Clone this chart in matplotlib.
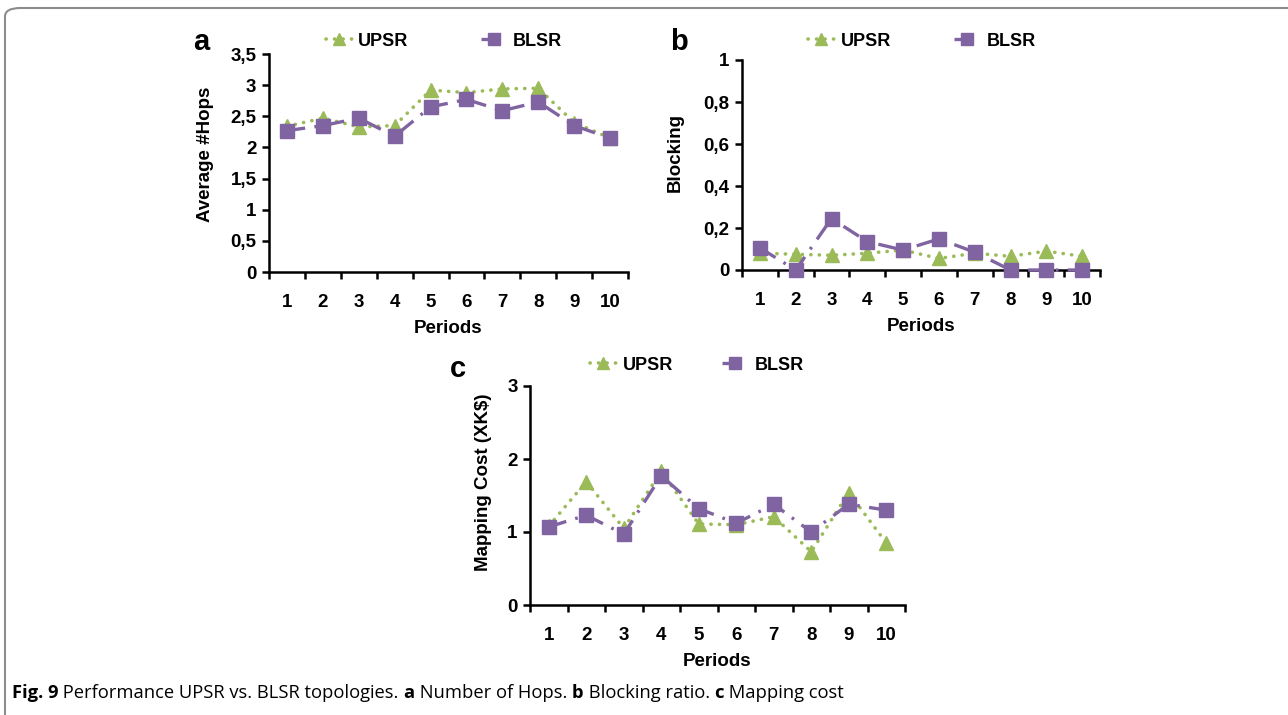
import matplotlib
matplotlib.use("Agg")
import matplotlib.pyplot as plt
from matplotlib.patches import FancyBboxPatch
from matplotlib.ticker import FixedLocator, FuncFormatter

W, H = 1288, 715

periods = list(range(1, 11))

hops_upsr = [2.34, 2.47, 2.33, 2.35, 2.92, 2.88, 2.94, 2.95, 2.40, 2.15]
hops_blsr = [2.27, 2.35, 2.47, 2.18, 2.65, 2.77, 2.59, 2.73, 2.35, 2.15]

block_upsr = [0.080, 0.075, 0.070, 0.080, 0.095, 0.055, 0.080, 0.065, 0.090, 0.065]
block_blsr = [0.105, 0.0, 0.245, 0.135, 0.095, 0.148, 0.085, 0.0, 0.0, 0.0]

cost_upsr = [1.08, 1.69, 1.05, 1.83, 1.11, 1.10, 1.21, 0.73, 1.54, 0.85]
cost_blsr = [1.07, 1.23, 0.97, 1.77, 1.32, 1.12, 1.38, 1.00, 1.38, 1.30]

GREEN = "#9bbb59"
PURPLE = "#8064a2"

plt.rcParams["font.family"] = ["Liberation Sans", "DejaVu Sans"]

fig = plt.figure(figsize=(W / 100, H / 100), dpi=100)


def px_axes(box):
    left, right, top, bottom = box
    return fig.add_axes([left / W, 1 - bottom / H, (right - left) / W, (bottom - top) / H])


def comma(v, pos):
    return f"{v:g}".replace(".", ",")


def panel(box, upsr, blsr, ymax, ystep, ylabel, ylab_xy, letter, letter_xy,
          leg_xy, colspace):
    ax = px_axes(box)
    left, right, top, bottom = box
    ax.plot(periods, upsr, color=GREEN, lw=2.6, ls=(0, (0.05, 2.3)),
            dash_capstyle="round", marker="^", ms=10.5, mec=GREEN, mfc=GREEN,
            label="UPSR", zorder=3, clip_on=False)
    ax.plot(periods, blsr, color=PURPLE, lw=2.4, ls=(0, (5.5, 2.8, 0.8, 2.8)),
            marker="s", ms=10.5, mec=PURPLE, mfc=PURPLE, label="BLSR", zorder=4,
            clip_on=False)
    ax.set_xlim(0.5, 10.5)
    ax.set_ylim(0, ymax)
    for s in ("top", "right"):
        ax.spines[s].set_visible(False)
    for s in ("left", "bottom"):
        ax.spines[s].set_linewidth(1.8)
        ax.spines[s].set_zorder(2)
    ax.set_facecolor("none")
    n = int(round(ymax / ystep))
    ax.yaxis.set_major_locator(FixedLocator([i * ystep for i in range(n + 1)]))
    ax.yaxis.set_major_formatter(FuncFormatter(comma))
    ax.xaxis.set_major_locator(FixedLocator(periods))
    ax.xaxis.set_minor_locator(FixedLocator([p + 0.5 for p in range(0, 11)]))
    ax.tick_params(axis="y", which="major", direction="out", length=5, width=1.8,
                   labelsize=13.5, pad=4)
    ax.tick_params(axis="x", which="major", length=0, labelsize=13.5, pad=16)
    ax.tick_params(axis="x", which="minor", direction="out", length=5, width=1.8)
    for t in ax.get_xticklabels() + ax.get_yticklabels():
        t.set_fontweight("bold")
    ax.set_xlabel("Periods", fontsize=13.5, fontweight="bold", labelpad=6)
    ax.set_ylabel(ylabel, fontsize=13.5, fontweight="bold", va="center")
    ax.yaxis.set_label_coords((ylab_xy[0] - left) / (right - left),
                              (bottom - ylab_xy[1]) / (bottom - top))
    fig.text(letter_xy[0] / W, 1 - letter_xy[1] / H, letter, fontsize=21,
             fontweight="bold", ha="center", va="center")
    ax.legend(loc="center", bbox_to_anchor=(leg_xy[0] / W, 1 - leg_xy[1] / H),
              bbox_transform=fig.transFigure, ncol=2, frameon=False,
              prop={"weight": "bold", "size": 13}, handlelength=1.45,
              handletextpad=0.35, columnspacing=colspace, numpoints=1,
              markerscale=0.85)
    return ax


ax_a = panel((269, 628, 54, 272), hops_upsr, hops_blsr, 3.5, 0.5, "Average #Hops",
             (205, 154), "a", (201, 42), (444, 41), 4.0)
ax_b = panel((742, 1100, 60, 270), block_upsr, block_blsr, 1.0, 0.2, "Blocking",
             (675, 152), "b", (679, 42), (922, 41), 3.5)
ax_c = panel((530, 905, 386, 605), cost_upsr, cost_blsr, 3.0, 1.0,
             "Mapping Cost (XK$)", (483, 482), "c", (458, 369), (697, 365), 2.7)

# outer frame
frame = FancyBboxPatch((5 / W, -0.2), 1.2, 1.2 - 8 / H,
                       boxstyle="round,pad=0,rounding_size=0.012",
                       transform=fig.transFigure, fill=False, ec="#8c8c8c",
                       lw=1.5, clip_on=False)
fig.patches.append(frame)

# caption with mixed weights
pieces = [("Fig. 9", "bold"), (" Performance UPSR vs. BLSR topologies. ", "normal"),
          ("a", "bold"), (" Number of Hops. ", "normal"), ("b", "bold"),
          (" Blocking ratio. ", "normal"), ("c", "bold"), (" Mapping cost", "normal")]
fig.canvas.draw()
renderer = fig.canvas.get_renderer()
x = 12
for txt, wt in pieces:
    t = fig.text(x / W, 1 - 693 / H, txt, fontsize=13.2, fontweight=wt,
                 family=["Open Sans", "DejaVu Sans"], ha="left", va="center")
    x += t.get_window_extent(renderer=renderer).width

fig.savefig("out.png", dpi=100)
